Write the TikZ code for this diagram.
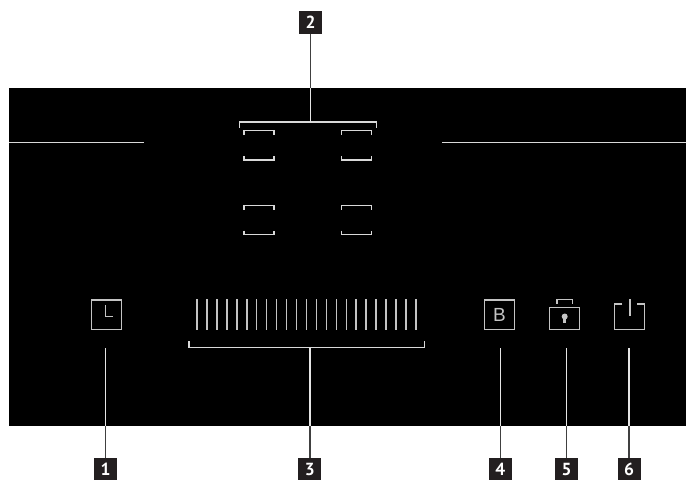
\documentclass[tikz,border=0pt]{standalone}
\usepackage{fontspec}
\setmainfont{Liberation Sans}
\newfontfamily\badgefont{PT Sans}
\usetikzlibrary{positioning}
\definecolor{badgeblack}{HTML}{231F20}
\definecolor{iconline}{HTML}{C4C4C4}
\tikzset{
  badge/.style={fill=badgeblack, text=white, inner sep=0pt, minimum width=23pt, minimum height=22.5pt, font=\badgefont\bfseries\fontsize{17.5pt}{17.5pt}\selectfont},
  icon/.style={draw=iconline, line width=1.5pt},
  bracket/.style={draw=white!85!black, line width=1.3pt},
  leaderdark/.style={draw=black!75, line width=1.3pt},
  leaderlight/.style={draw=white!90!black, line width=1.3pt}
}

\begin{document}
\begin{tikzpicture}[x=1pt, y=-1pt]
\useasboundingbox (0,0) rectangle (686,480);
\fill[black] (9,88) rectangle (686,426);
\coordinate (rim) at (0,426);
\coordinate (rimtop) at (0,88);
\coordinate (foot) at (0,347.5);

% top lines
\draw[bracket] (9,142.5) -- (144,142.5);
\draw[bracket] (442,142.5) -- (686,142.5);

% badges
\node[badge] (b1) at (105.5,469.2) {1};
\node[badge, right=181pt of b1] (b3) {3};
\node[badge, right=167pt of b3] (b4) {4};
\node[badge, right=43pt of b4] (b5) {5};
\node[badge, right=39pt of b5] (b6) {6};
\node[badge] (b2) at (310.5,22.5) {2};

% cooking zones
\draw[bracket] (239.7,128) -- (239.7,122) -- (376.8,122) -- (376.8,128);
\coordinate (zonefoot) at (310.5,122);
\foreach \x in {244,341.7} {
  \foreach \ya/\yb in {130.8/160, 205.5/234.5} {
    \draw[bracket] (\x,\ya+4) -- (\x,\ya) -- (\x+30,\ya) -- (\x+30,\ya+4);
    \draw[bracket] (\x,\yb-4) -- (\x,\yb) -- (\x+30,\yb) -- (\x+30,\yb-4);
  }
}

% slider
\foreach \i in {0,...,22} {
  \draw[icon] (197+\i*9.95,299) -- (197+\i*9.95,329.7);
}
\draw[bracket] (189,341) -- (189,347.5) -- (424.3,347.5) -- (424.3,341);

% timer
\draw[icon] (91.3,300) rectangle (121.3,329.3);
\draw[icon] (105.7,305) -- (105.7,316.7) -- (113.3,316.7);

% booster
\draw[icon] (484.7,300) rectangle (514.7,329.5);
\node[text=iconline, inner sep=0pt, font=\fontsize{19pt}{19pt}\selectfont] (boost) at (499.5,315) {B};

% lock
\draw[icon] (549.7,307.3) rectangle (579.7,329.5);
\draw[icon] (557,303.7) -- (557,299.7) -- (572.3,299.7) -- (572.3,303.7);
\fill[iconline] (564.7,316.5) circle (3pt);
\fill[iconline] (563.4,317) rectangle (566,323);

% power
\draw[icon] (622.3,304) -- (614.7,304) -- (614.7,329.5) -- (644.7,329.5) -- (644.7,304) -- (636.7,304);
\draw[icon] (630,299) -- (630,316);

% leaders
\foreach \b in {b1,b3,b4,b5,b6} {
  \draw[leaderdark] (\b.north) -- (\b |- rim);
  \draw[leaderlight] (\b |- rim) -- (\b |- foot);
}
\draw[leaderdark] (b2.south) -- (b2 |- rimtop);
\draw[leaderlight] (b2 |- rimtop) -- (zonefoot);
\end{tikzpicture}
\end{document}
